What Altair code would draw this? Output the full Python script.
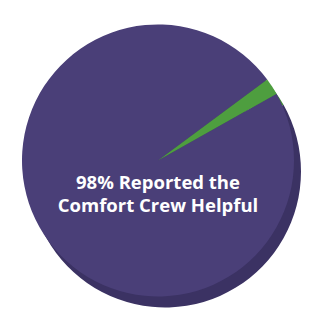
import altair as alt
import pandas as pd
import math

categories = ["Reported helpful", "Other"]
values = [98, 2]
label_lines = ["98% Reported the", "Comfort Crew Helpful"]

df = pd.DataFrame({"category": categories, "value": values})
label_df = pd.DataFrame({"label": ["\n".join(label_lines)]})

start = 1.058
theta_scale = alt.Scale(range=[start, start + 2 * math.pi])

side = alt.Chart(df).mark_arc(outerRadius=136, xOffset=7, yOffset=11).encode(
    theta=alt.Theta("value:Q", stack=True, scale=theta_scale),
    color=alt.Color("category:N", scale=alt.Scale(domain=categories, range=["#3b3263", "#3f8a33"]), legend=None),
    order=alt.Order("category:N", sort="descending"),
)
top = alt.Chart(df).mark_arc(outerRadius=136).encode(
    theta=alt.Theta("value:Q", stack=True, scale=theta_scale),
    color=alt.Color("category:N", scale=alt.Scale(domain=categories, range=["#4a3f78", "#4e9e3f"]), legend=None),
    order=alt.Order("category:N", sort="descending"),
)
pie = (side + top).resolve_scale(color="independent")

text = alt.Chart(label_df).mark_text(
    dy=22, color="white", fontSize=18.5, fontWeight="bold", font="Open Sans", lineBreak="\n", lineHeight=23
).encode(text="label:N")

chart = (pie + text).properties(
    width=300, height=305, padding=0,
    autosize=alt.AutoSizeParams(type="fit", contains="padding"),
).configure_view(stroke=None).configure(background="white")

chart.save("out.html", embed_options={"renderer": "svg", "actions": False})
